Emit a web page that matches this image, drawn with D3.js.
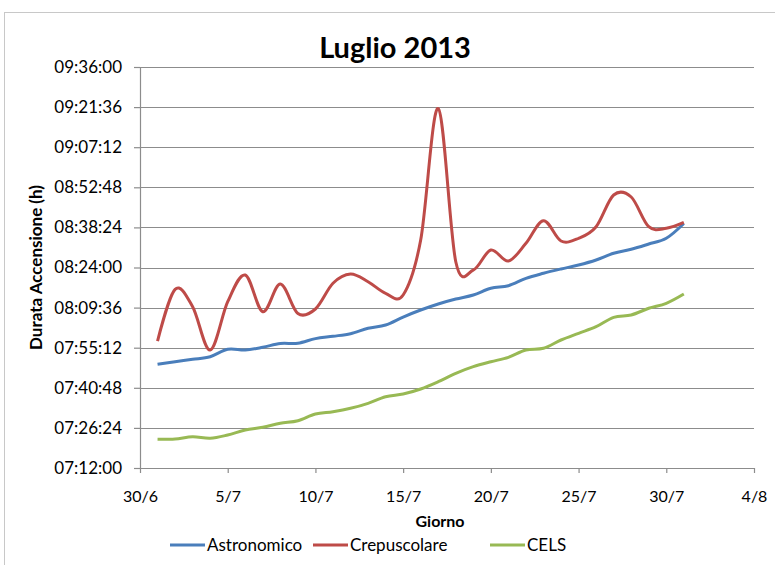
<!DOCTYPE html>
<html>
<head>
<meta charset="utf-8">
<script src="https://cdn.jsdelivr.net/npm/d3@7"></script>
<style>
  body { margin: 0; background: #fff; }
  svg text { font-family: Lato, "Open Sans", sans-serif; fill: #000; }
</style>
</head>
<body>
<div id="chart"></div>
<script>
(function () {
  "use strict";

  /***** Dati *****/
  // giorni di luglio 2013
  var giorni = [1, 2, 3, 4, 5, 6, 7, 8, 9, 10, 11, 12, 13, 14, 15, 16,
                17, 18, 19, 20, 21, 22, 23, 24, 25, 26, 27, 28, 29, 30, 31];

  var astronomico = ["07:49:14", "07:50:10", "07:51:02", "07:51:58", "07:54:37", "07:54:22",
    "07:55:21", "07:56:42", "07:56:47", "07:58:28", "07:59:18", "08:00:14", "08:02:10",
    "08:03:21", "08:06:13", "08:08:44", "08:10:54", "08:12:41", "08:14:07", "08:16:32",
    "08:17:28", "08:20:07", "08:21:55", "08:23:28", "08:24:54", "08:26:42", "08:29:06",
    "08:30:32", "08:32:26", "08:34:29", "08:39:48"];

  var crepuscolare = ["07:57:36", "08:16:10", "08:09:55", "07:54:22", "08:11:43", "08:21:18",
    "08:08:08", "08:18:04", "08:07:29", "08:09:06", "08:18:20", "08:21:40", "08:18:54",
    "08:14:44", "08:14:07", "08:33:52", "09:21:06", "08:26:05", "08:23:06", "08:30:17",
    "08:26:20", "08:32:41", "08:40:48", "08:33:31", "08:34:29", "08:38:39", "08:50:02",
    "08:49:19", "08:38:39", "08:38:04", "08:40:10"];

  var cels = ["07:22:18", "07:22:25", "07:23:14", "07:22:40", "07:23:51", "07:25:39",
    "07:26:37", "07:28:03", "07:28:59", "07:31:23", "07:32:13", "07:33:26", "07:35:14",
    "07:37:36", "07:38:34", "07:40:22", "07:42:59", "07:46:00", "07:48:23", "07:50:10",
    "07:51:45", "07:54:22", "07:54:59", "07:57:58", "08:00:22", "08:02:44", "08:06:07",
    "08:06:57", "08:09:21", "08:11:09", "08:14:29"];

  var xTickLabels = ["30/6", "5/7", "10/7", "15/7", "20/7", "25/7", "30/7", "4/8"];
  var yTickLabels = ["07:12:00", "07:26:24", "07:40:48", "07:55:12", "08:09:36",
    "08:24:00", "08:38:24", "08:52:48", "09:07:12", "09:21:36", "09:36:00"];

  var serie = [
    {name: "Astronomico", color: "#4a7ebb", values: astronomico},
    {name: "Crepuscolare", color: "#be4b48", values: crepuscolare},
    {name: "CELS", color: "#98b954", values: cels}
  ];

  /***** Configurazione *****/
  var width = 775, height = 565;
  var margin = {top: 67, right: 21, bottom: 97, left: 140};
  var plotW = width - margin.left - margin.right,
      plotH = height - margin.top - margin.bottom;

  function secondi(s) {
    var p = s.split(":").map(Number);
    return p[0] * 3600 + p[1] * 60 + p[2];
  }
  function data(lbl) {
    var p = lbl.split("/").map(Number);
    return new Date(2013, p[1] - 1, p[0]);
  }

  var xTicks = xTickLabels.map(data);
  var yTicks = yTickLabels.map(secondi);

  var x = d3.scaleTime()
    .domain([xTicks[0], xTicks[xTicks.length - 1]])
    .range([0, plotW]);
  var y = d3.scaleLinear()
    .domain([yTicks[0], yTicks[yTicks.length - 1]])
    .range([plotH, 0]);

  var svg = d3.select("#chart").append("svg")
    .attr("width", width)
    .attr("height", height);

  // cornice
  svg.append("rect")
    .attr("x", 4.5).attr("y", 12.5)
    .attr("width", 800).attr("height", 600)
    .attr("fill", "none").attr("stroke", "#c8c8c8");

  svg.append("text")
    .attr("x", 395).attr("y", 58)
    .attr("text-anchor", "middle")
    .style("font-size", "29px").style("font-weight", "bold")
    .text("Luglio 2013");

  var g = svg.append("g")
    .attr("transform", "translate(" + margin.left + "," + margin.top + ")");

  // griglia
  g.append("g")
    .selectAll("line")
    .data(yTicks.slice(1))
    .join("line")
    .attr("x1", 0).attr("x2", plotW)
    .attr("y1", function (d) { return Math.round(y(d)) + 0.5; })
    .attr("y2", function (d) { return Math.round(y(d)) + 0.5; })
    .attr("stroke", "#8c8c8c").attr("stroke-width", 1.2);

  // asse y
  var yAxis = g.append("g")
    .call(d3.axisLeft(y).tickValues(yTicks)
      .tickFormat(function (d, i) { return yTickLabels[i]; })
      .tickSizeInner(6).tickSizeOuter(0).tickPadding(12));
  yAxis.selectAll("line, path").attr("stroke", "#8c8c8c").attr("stroke-width", 1.2);
  yAxis.selectAll("text").style("font-size", "17px").attr("fill", "#000");

  // asse x
  var xAxis = g.append("g")
    .attr("transform", "translate(0," + plotH + ")")
    .call(d3.axisBottom(x).tickValues(xTicks)
      .tickFormat(function (d, i) { return xTickLabels[i]; })
      .tickSizeInner(5).tickSizeOuter(0).tickPadding(18));
  xAxis.selectAll("line, path").attr("stroke", "#8c8c8c").attr("stroke-width", 1.2);
  xAxis.selectAll("text").style("font-size", "16px").attr("fill", "#000");

  // linee
  var line = d3.line()
    .x(function (d, i) { return x(new Date(2013, 6, giorni[i])); })
    .y(function (d) { return y(secondi(d)); })
    .curve(d3.curveCardinal.tension(0));

  g.selectAll("path.serie")
    .data(serie)
    .join("path")
    .attr("class", "serie")
    .attr("d", function (s) { return line(s.values); })
    .attr("fill", "none")
    .attr("stroke", function (s) { return s.color; })
    .attr("stroke-width", 3)
    .attr("stroke-linejoin", "round");

  // titoli assi
  svg.append("text")
    .attr("transform", "translate(42," + (margin.top + plotH / 2) + ") rotate(-90)")
    .attr("text-anchor", "middle")
    .style("font-size", "17px").style("font-weight", "bold")
    .text("Durata Accensione (h)");

  svg.append("text")
    .attr("x", 440).attr("y", 527)
    .attr("text-anchor", "middle")
    .style("font-size", "16px").style("font-weight", "bold")
    .text("Giorno");

  // legenda
  var legendX = [170, 313, 490];
  var leg = svg.append("g").selectAll("g")
    .data(serie)
    .join("g")
    .attr("transform", function (s, i) { return "translate(" + legendX[i] + ",545)"; });
  leg.append("line")
    .attr("x1", 0).attr("x2", 35)
    .attr("stroke", function (s) { return s.color; })
    .attr("stroke-width", 3);
  leg.append("text")
    .attr("x", 37).attr("y", 6)
    .style("font-size", "17px")
    .text(function (s) { return s.name; });
})();
</script>
</body>
</html>
